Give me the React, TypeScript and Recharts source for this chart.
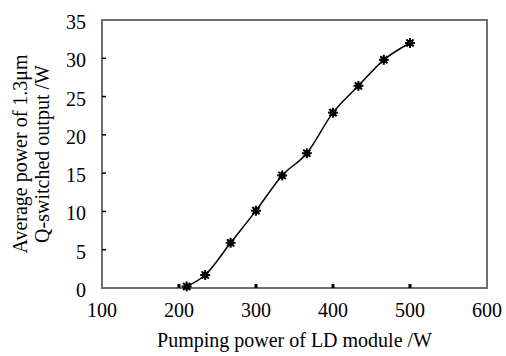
import React from "react";
import { LineChart, Line, XAxis, YAxis } from "recharts";

const pumpPower = [210, 234, 267, 300, 334, 366, 400, 433, 466, 500];
const outputPower = [0.2, 1.7, 5.9, 10.1, 14.7, 17.6, 22.9, 26.4, 29.8, 32.0];
const xTicks = [100, 200, 300, 400, 500, 600];
const yTicks = [0, 5, 10, 15, 20, 25, 30, 35];

const data = pumpPower.map((x, i) => ({ x, y: outputPower[i] }));

const FONT = "'Liberation Serif', 'Times New Roman', serif";
const BOX = "#6e6e6e";
const FS = 20;
const MARGIN = { top: 20, right: 19, bottom: 0, left: 0 };
const Y_AXIS_WIDTH = 102;
const X_AXIS_HEIGHT = 68;
const W = 506;
const H = 356;

const XTick = (props: any) => {
  const { x, y, payload } = props;
  const inner = payload.value !== 100 && payload.value !== 600;
  return (
    <g>
      {inner && <rect x={x - 1.5} y={y - 4} width={3} height={4} fill="#000" />}
      <text x={x} y={y + 29} textAnchor="middle" fontFamily={FONT} fontSize={FS} fill="#000">
        {payload.value}
      </text>
    </g>
  );
};

const YTick = (props: any) => {
  const { x, y, payload } = props;
  const inner = payload.value !== 0 && payload.value !== 35;
  return (
    <g>
      {inner && <line x1={x} x2={x + 4} y1={y} y2={y} stroke="#000" strokeWidth={1.5} />}
      <text x={x - 16} y={y + 9} textAnchor="end" fontFamily={FONT} fontSize={FS} fill="#000">
        {payload.value}
      </text>
    </g>
  );
};

const StarDot = (props: any) => {
  const { cx, cy } = props;
  if (cx == null || cy == null) return null;
  const r = 5;
  const d = r * 0.72;
  return (
    <g>
      <circle cx={cx} cy={cy} r={3.2} fill="#000" />
      <line x1={cx - r} x2={cx + r} y1={cy} y2={cy} stroke="#000" strokeWidth={2} />
      <line x1={cx} x2={cx} y1={cy - r} y2={cy + r} stroke="#000" strokeWidth={2} />
      <line x1={cx - d} x2={cx + d} y1={cy - d} y2={cy + d} stroke="#000" strokeWidth={2} />
      <line x1={cx - d} x2={cx + d} y1={cy + d} y2={cy - d} stroke="#000" strokeWidth={2} />
    </g>
  );
};

const YLabel = (props: any) => {
  const vb = props.viewBox || {};
  const cy = (vb.y || 20) + (vb.height || 268) / 2;
  return (
    <g>
      <text
        x={0}
        y={0}
        transform={`translate(27, ${cy}) rotate(-90)`}
        textAnchor="middle"
        fontFamily={FONT}
        fontSize={FS}
        fill="#000"
      >
        Average power of 1.3μm
      </text>
      <text
        x={0}
        y={0}
        transform={`translate(49, ${cy}) rotate(-90)`}
        textAnchor="middle"
        fontFamily={FONT}
        fontSize={FS}
        fill="#000"
      >
        Q-switched output /W
      </text>
    </g>
  );
};

const XLabel = (props: any) => {
  const vb = props.viewBox || {};
  const left = Number(vb.x ?? 102);
  const w = Number(vb.width ?? 385);
  const bottom = Number(vb.y ?? 288);
  const top = MARGIN.top;
  return (
    <g>
      <rect x={left} y={top} width={w} height={bottom - top} fill="none" stroke={BOX} strokeWidth={2} />
      <text x={left + w / 2} y={347} textAnchor="middle" fontFamily={FONT} fontSize={FS} fill="#000">
        Pumping power of LD module /W
      </text>
    </g>
  );
};

export default function App() {
  return (
    <div style={{ position: "absolute", left: 0, top: 0, width: W, height: H, background: "#fff" }}>
      <LineChart width={W} height={H} data={data} margin={MARGIN}>
        <XAxis
          dataKey="x"
          type="number"
          domain={[100, 600]}
          ticks={xTicks}
          interval={0}
          tickSize={0}
          tickMargin={0}
          tickLine={false}
          axisLine={{ stroke: BOX, strokeWidth: 2 }}
          tick={<XTick />}
          height={X_AXIS_HEIGHT}
          label={<XLabel />}
        />
        <YAxis
          type="number"
          domain={[0, 35]}
          ticks={yTicks}
          interval={0}
          tickSize={0}
          tickMargin={0}
          tickLine={false}
          axisLine={{ stroke: BOX, strokeWidth: 2 }}
          tick={<YTick />}
          width={Y_AXIS_WIDTH}
          label={<YLabel />}
        />
        <Line
          dataKey="y"
          type="monotone"
          stroke="#000"
          strokeWidth={1.5}
          dot={<StarDot />}
          isAnimationActive={false}
        />
      </LineChart>
    </div>
  );
}
